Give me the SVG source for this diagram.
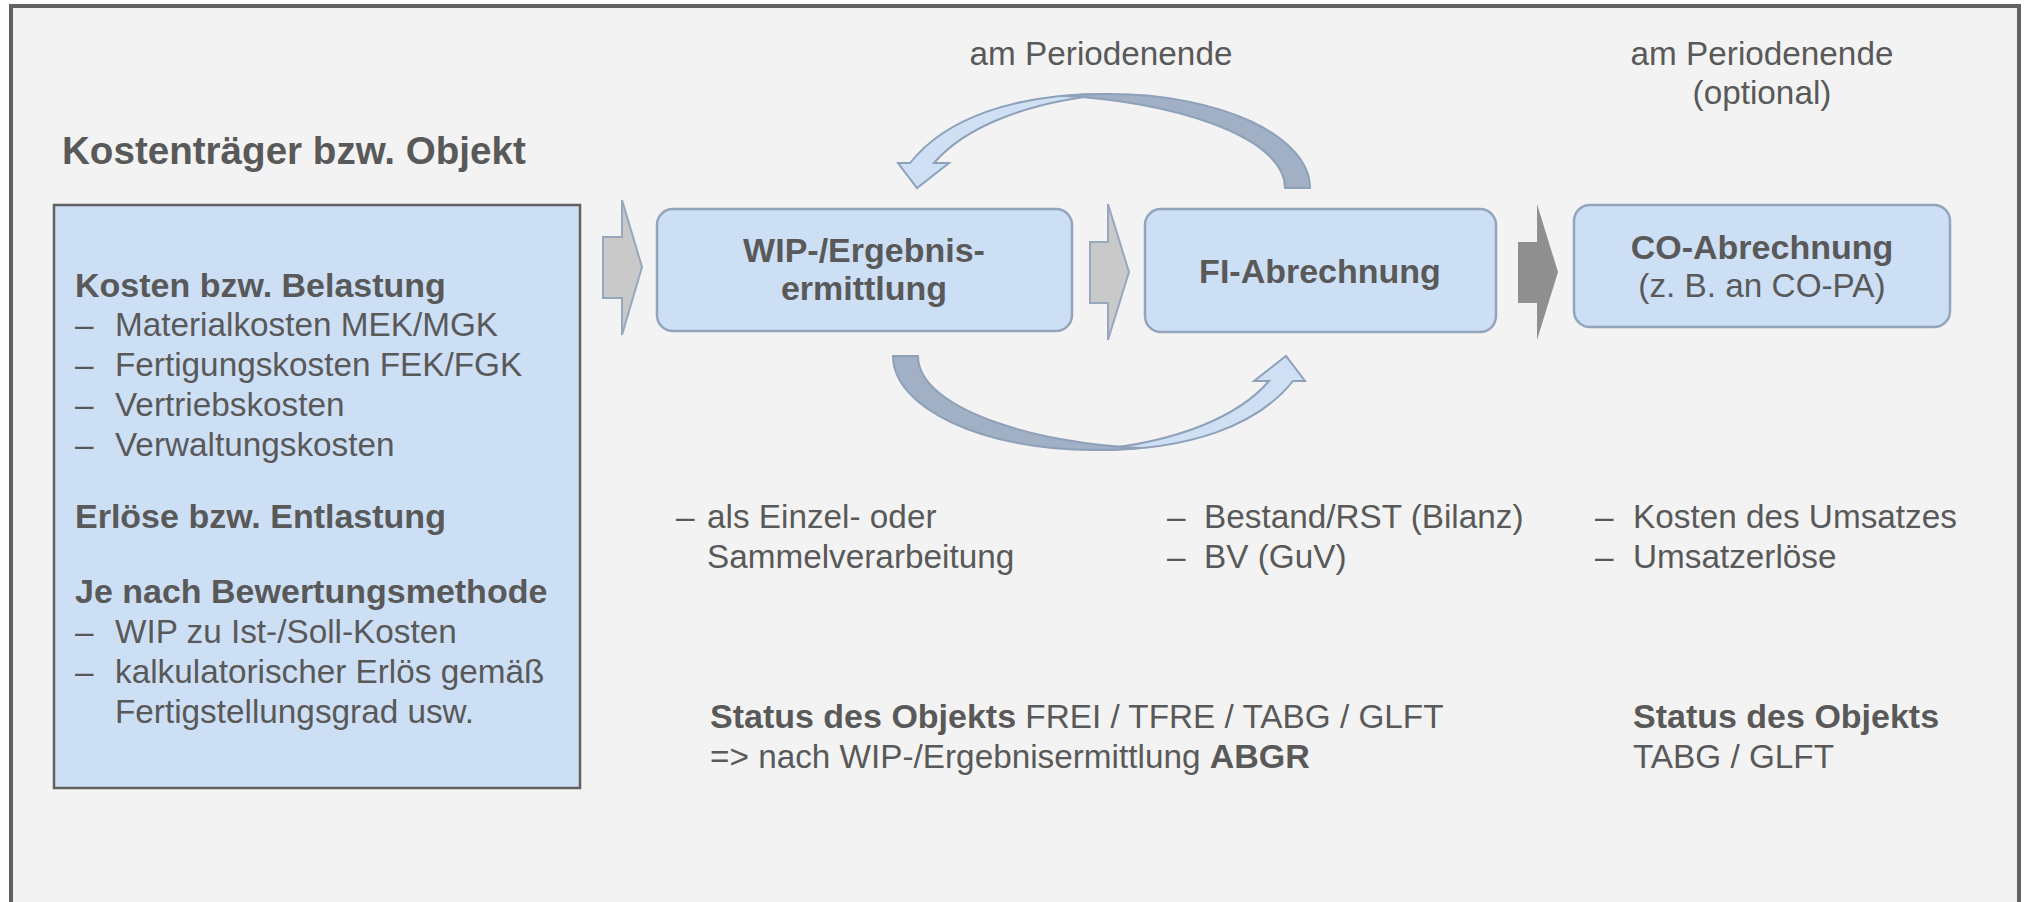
<svg xmlns="http://www.w3.org/2000/svg" width="2024" height="902" viewBox="0 0 2024 902">
  <style>
    text { font-family: "Liberation Sans", Arial, sans-serif; fill: #595959; font-size: 33.3px; }
    .b { font-weight: bold; font-size: 34px; }
    .title { font-size: 38.6px; font-weight: bold; }
    .mid { text-anchor: middle; }
    .box { fill: #cddff5; stroke: #93a5bc; stroke-width: 2.5; }
    .chev { fill: #c9c9c9; stroke: #97a8bd; stroke-width: 2; }
    .chevDark { fill: #8f8f8f; }
    .arcDark { fill: #a1b0c4; stroke: #8ea1b9; stroke-width: 2; stroke-linejoin: round; }
    .arcLight { fill: #cfe0f5; stroke: #8ea1b9; stroke-width: 2; stroke-linejoin: miter; }
  </style>
  <defs>
    <g id="curvedArrow">
      <path class="arcLight" d="M 1093 450 C 1190 451 1258 425 1293 381 L 1305 381 L 1286 356 L 1254 381 L 1269 381 C 1240 415 1180 442 1093 450 Z"/>
      <path class="arcDark" d="M 893 356 C 893 408 983 450 1093 450 C 1115 450 1130 449 1140 448 C 1040 444 918 410 918 356 Z"/>
    </g>
  </defs>

  <rect x="0" y="0" width="2024" height="902" fill="#ffffff"/>
  <rect id="frame" x="11" y="6" width="2008" height="1000" fill="#f3f3f3" stroke="#626262" stroke-width="4"/>

  <g id="header-left">
    <text class="title" x="62" y="164">Kostenträger bzw. Objekt</text>
  </g>

  <g id="node-kostentraeger">
    <rect x="54" y="205" width="526" height="583" fill="#cddff5" stroke="#606060" stroke-width="2.5"/>
    <text class="b" x="75" y="297">Kosten bzw. Belastung</text>
    <text x="75" y="336">–</text><text x="115" y="336">Materialkosten MEK/MGK</text>
    <text x="75" y="376">–</text><text x="115" y="376">Fertigungskosten FEK/FGK</text>
    <text x="75" y="416">–</text><text x="115" y="416">Vertriebskosten</text>
    <text x="75" y="456">–</text><text x="115" y="456">Verwaltungskosten</text>
    <text class="b" x="75" y="528">Erlöse bzw. Entlastung</text>
    <text class="b" x="75" y="603">Je nach Bewertungsmethode</text>
    <text x="75" y="643">–</text><text x="115" y="643">WIP zu Ist-/Soll-Kosten</text>
    <text x="75" y="683">–</text><text x="115" y="683">kalkulatorischer Erlös gemäß</text>
    <text x="115" y="723">Fertigstellungsgrad usw.</text>
  </g>

  <g id="node-wip">
    <rect class="box" x="657" y="209" width="415" height="122" rx="16"/>
    <text class="b mid" x="864" y="262">WIP-/Ergebnis-</text>
    <text class="b mid" x="864" y="300">ermittlung</text>
  </g>

  <g id="node-fi">
    <rect class="box" x="1145" y="209" width="351" height="123" rx="16"/>
    <text class="b mid" x="1320" y="283">FI-Abrechnung</text>
  </g>

  <g id="node-co">
    <rect class="box" x="1574" y="205" width="376" height="122" rx="16"/>
    <text class="b mid" x="1762" y="259">CO-Abrechnung</text>
    <text class="mid" x="1762" y="297">(z. B. an CO-PA)</text>
  </g>

  <g id="connectors">
    <path class="chev" d="M 603 237 H 622 V 200 L 642 267 L 622 335 V 298 H 603 Z"/>
    <path class="chev" d="M 1090 242 H 1108 V 204 L 1129 272 L 1108 340 V 303 H 1090 Z"/>
    <path class="chevDark" d="M 1518 242 H 1537 V 204 L 1558 272 L 1537 340 V 303 H 1518 Z"/>
    <use href="#curvedArrow"/>
    <use href="#curvedArrow" transform="rotate(180 1101.5 272)"/>
  </g>

  <g id="labels">
    <text class="mid" x="1101" y="65">am Periodenende</text>
    <text class="mid" x="1762" y="65">am Periodenende</text>
    <text class="mid" x="1762" y="104">(optional)</text>

    <text x="676" y="528">–</text><text x="707" y="528">als Einzel- oder</text>
    <text x="707" y="568">Sammelverarbeitung</text>

    <text x="1167" y="528">–</text><text x="1204" y="528">Bestand/RST (Bilanz)</text>
    <text x="1167" y="568">–</text><text x="1204" y="568">BV (GuV)</text>

    <text x="1595" y="528">–</text><text x="1633" y="528">Kosten des Umsatzes</text>
    <text x="1595" y="568">–</text><text x="1633" y="568">Umsatzerlöse</text>

    <text x="710" y="728"><tspan class="b">Status des Objekts</tspan> FREI / TFRE / TABG / GLFT</text>
    <text x="710" y="768">=&gt; nach WIP-/Ergebnisermittlung <tspan class="b">ABGR</tspan></text>

    <text class="b" x="1633" y="728">Status des Objekts</text>
    <text x="1633" y="768">TABG / GLFT</text>
  </g>
</svg>
